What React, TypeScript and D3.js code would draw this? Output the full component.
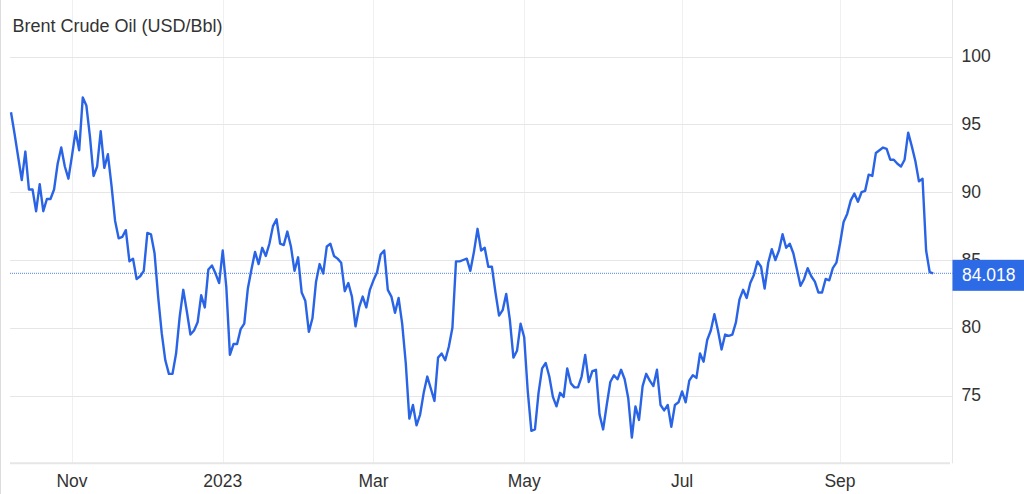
import React from "react";
import * as d3 from "d3";

// Brent Crude Oil daily closes (USD/Bbl), grouped by month
const oct22 = [95.9, 94.3, 92.6, 90.9, 93.0, 90.2, 90.2, 88.6, 90.6, 88.6, 89.5, 89.5, 90.2, 92.1, 93.3, 91.9, 91.0];
const nov22 = [92.7, 94.5, 93.1, 97.0, 96.4, 94.1, 91.2, 91.9, 94.5, 91.8, 92.8, 90.5, 87.9, 86.6, 86.7, 87.2, 84.9, 85.1, 83.6, 83.8, 84.2, 87.0];
const dec22 = [86.9, 85.5, 82.3, 79.6, 77.6, 76.6, 76.6, 78.1, 80.8, 82.8, 81.2, 79.5, 79.8, 80.4, 82.4, 81.5, 84.3, 84.6, 84.0, 83.3];
const jan23 = [85.7, 83.0, 78.0, 78.8, 78.8, 79.9, 80.3, 82.9, 84.3, 85.6, 84.7, 85.9, 85.3, 86.2, 87.5, 88.0, 86.2, 86.1, 87.1, 86.0, 84.2];
const feb23 = [85.2, 82.6, 82.0, 79.7, 80.7, 83.4, 84.7, 84.0, 86.0, 86.2, 85.3, 85.1, 84.8, 82.7, 83.3, 82.3, 80.1, 81.5, 82.3, 81.5, 82.8];
const mar23 = [83.5, 84.1, 85.4, 85.7, 82.8, 82.3, 81.1, 82.2, 80.3, 77.4, 73.3, 74.3, 72.8, 73.6, 75.2, 76.4, 75.5, 74.6, 77.8, 78.1, 77.6, 78.6, 80.0];
const apr23 = [84.9, 84.9, 85.0, 85.1, 84.2, 85.6, 87.3, 85.7, 85.9, 84.5, 84.5, 82.6, 80.9, 81.3, 82.5, 80.6, 77.8, 78.3, 80.3];
const may23 = [79.3, 75.3, 72.4, 72.5, 75.2, 77.0, 77.4, 76.4, 74.9, 74.2, 75.2, 74.9, 77.0, 75.9, 75.6, 75.6, 76.4, 78.0, 76.0, 76.8, 76.9, 73.6];
const jun23 = [72.5, 74.3, 76.0, 76.5, 76.2, 76.9, 76.2, 74.8, 71.9, 74.2, 73.2, 75.7, 76.6, 76.1, 75.7, 76.9, 74.3, 73.9, 74.3, 72.7, 74.3, 74.5];
const jul23 = [75.3, 74.5, 76.1, 76.5, 76.3, 78.1, 77.5, 79.1, 79.8, 81.0, 79.8, 78.4, 79.5, 79.4, 79.5, 80.4, 82.1, 82.8, 82.2, 83.3, 83.9];
const aug23 = [84.9, 84.5, 82.9, 84.8, 85.8, 85.0, 85.7, 86.9, 85.9, 86.2, 85.5, 84.3, 83.1, 83.6, 84.4, 83.8, 83.4, 82.6, 82.6, 83.6, 83.5, 84.4, 84.8];
const sep23 = [86.2, 87.8, 88.4, 89.4, 89.9, 89.3, 90.0, 90.1, 91.3, 91.2, 92.9, 93.1, 93.3, 93.2, 92.4, 92.4, 92.1, 91.9, 92.4, 94.4, 93.4];
const oct23 = [92.3, 90.8, 91.0, 85.7, 84.1, 84.018];

const monthSeries = [oct22, nov22, dec22, jan23, feb23, mar23, apr23, may23, jun23, jul23, aug23, sep23, oct23];
const monthLabels = ["", "Nov", "", "2023", "", "Mar", "", "May", "", "Jul", "", "Sep", ""];
const yTicks = [75, 80, 85, 90, 95, 100];
const title = "Brent Crude Oil (USD/Bbl)";

const W = 1024;
const H = 494;
const FONT = "'Liberation Sans', Arial, Helvetica, sans-serif";
const BLUE = "#2a64e6";

export default function App() {
  const values: number[] = monthSeries.flat();
  const starts: number[] = [];
  let acc = 0;
  monthSeries.forEach((m) => {
    starts.push(acc);
    acc += m.length;
  });

  const plotLeft = 10;
  const plotRight = 952.5;
  const plotBottom = 463.3;

  const x = d3.scaleLinear().domain([0, values.length - 1]).range([11, 933.3]);
  const y = d3.scaleLinear().domain([70, 100]).range([plotBottom, 56.7]);

  const line = d3
    .line<number>()
    .x((_, i) => x(i))
    .y((d) => y(d));

  const last = values[values.length - 1];
  const yLast = y(last);

  const ticks = monthLabels
    .map((label, i) => ({ label, idx: starts[i] }))
    .filter((t) => t.label !== "");

  return (
    <svg
      width={W}
      height={H}
      style={{ position: "absolute", left: 0, top: 0, background: "#fff" }}
      fontFamily={FONT}
    >
      {/* left border */}
      <line x1={0.5} x2={0.5} y1={0} y2={H} stroke="#dcdcdc" strokeWidth={1} />

      {/* vertical grid */}
      {ticks.map((t) => (
        <line
          key={"vg" + t.label}
          x1={Math.round(x(t.idx)) + 0.5}
          x2={Math.round(x(t.idx)) + 0.5}
          y1={0}
          y2={plotBottom}
          stroke="#f0f0f0"
          strokeWidth={1}
        />
      ))}

      {/* horizontal grid */}
      {yTicks.map((v) => (
        <line
          key={"hg" + v}
          x1={plotLeft}
          x2={plotRight}
          y1={Math.round(y(v)) + 0.5}
          y2={Math.round(y(v)) + 0.5}
          stroke="#e6e6e6"
          strokeWidth={1}
        />
      ))}

      {/* right axis line */}
      <line x1={plotRight} x2={plotRight} y1={0} y2={plotBottom} stroke="#e6e6e6" strokeWidth={1} />
      {/* bottom axis line */}
      <line x1={plotLeft} x2={950} y1={plotBottom} y2={plotBottom} stroke="#e6e6e6" strokeWidth={2} />

      {/* last value dotted line */}
      <line
        x1={plotLeft}
        x2={plotRight}
        y1={yLast}
        y2={yLast}
        stroke={BLUE}
        strokeWidth={1}
        strokeDasharray="1 1"
        opacity={0.8}
      />

      {/* price line */}
      <path d={line(values) || ""} fill="none" stroke={BLUE} strokeWidth={2.4} strokeLinejoin="round" />

      {/* y labels */}
      {yTicks.map((v) => (
        <text key={"yl" + v} x={961.5} y={y(v) + 5.5} fontSize={17.5} fill="#333">
          {v}
        </text>
      ))}

      {/* last value label (drawn over the axis label it sits on, as in the source) */}
      <rect x={plotRight} y={yLast - 13.5} width={W - plotRight} height={31} fill="#2d6be6" />
      <text x={962} y={yLast + 7.6} fontSize={17.5} fill="#fff">
        {last.toFixed(3)}
      </text>

      {/* x labels */}
      {ticks.map((t) => (
        <text
          key={"xl" + t.label}
          x={x(t.idx)}
          y={486.7}
          fontSize={17.5}
          fill="#333"
          textAnchor="middle"
        >
          {t.label}
        </text>
      ))}

      {/* title */}
      <text x={12.5} y={31.6} fontSize={18} fill="#333">
        {title}
      </text>
    </svg>
  );
}
